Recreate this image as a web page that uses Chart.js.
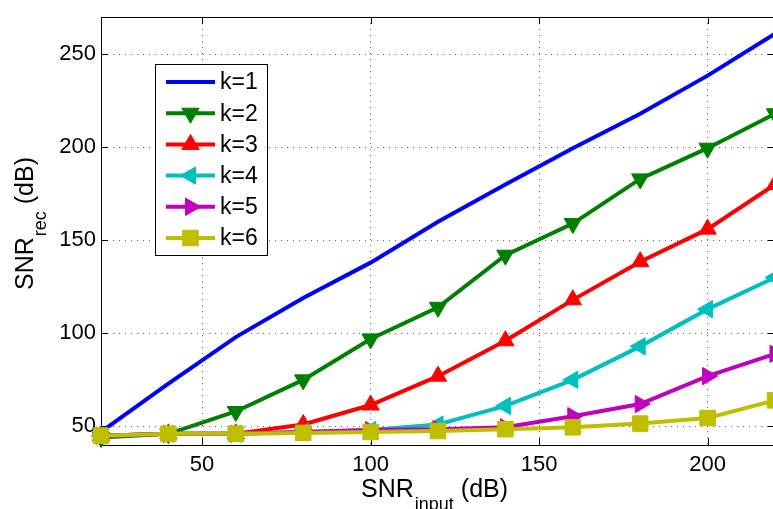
<!DOCTYPE html>
<html>
<head>
<meta charset="utf-8">
<script src="https://cdn.jsdelivr.net/npm/chart.js@4/dist/chart.umd.min.js"></script>
<style>
  html, body { margin: 0; padding: 0; background: #fff; overflow: hidden; }
  #wrap { position: relative; width: 776px; height: 509px; }
</style>
</head>
<body>
<div id="wrap"><canvas id="snrChart" width="776" height="509"></canvas></div>
<script>
const snrInput = [20, 40, 60, 80, 100, 120, 140, 160, 180, 200, 220]
const k1 = [47, 73, 98, 119, 138, 160, 180, 199.5, 218, 238.5, 261]
const k2 = [44, 46, 58, 75, 97, 114, 142, 159, 183, 199.5, 218]
const k3 = [45, 46, 46, 51, 61.5, 77, 96, 118, 138.5, 156, 180]
const k4 = [45, 46, 46, 47, 48, 51, 61, 75, 93, 113, 130]
const k5 = [45, 46, 46, 47, 48, 48.5, 49.5, 55.5, 62, 77, 89]
const k6 = [45, 46, 46, 46.5, 47, 47.5, 48.5, 49.5, 51.5, 54.5, 64]
const seriesLabels = ['k=1', 'k=2', 'k=3', 'k=4', 'k=5', 'k=6']
const xTicks = [50, 100, 150, 200]
const yTicks = [50, 100, 150, 200, 250]

const FONT = '"Liberation Sans", Arial, Helvetica, sans-serif'

const styles = [
  { color: '#0000ff', point: false, rot: 0 },
  { color: '#008000', point: 'triangle', rot: 180 },
  { color: '#ff0000', point: 'triangle', rot: 0 },
  { color: '#00bfbf', point: 'triangle', rot: -90 },
  { color: '#bf00bf', point: 'triangle', rot: 90 },
  { color: '#bfbf00', point: 'rect', rot: 0 },
]

const allSeries = [k1, k2, k3, k4, k5, k6]

const datasets = allSeries.map((vals, i) => ({
  label: seriesLabels[i],
  data: vals.map((v, j) => ({ x: snrInput[j], y: v })),
  borderColor: styles[i].color,
  backgroundColor: styles[i].color,
  borderWidth: 4,
  pointStyle: styles[i].point,
  pointRotation: styles[i].rot,
  pointRadius: styles[i].point ? (styles[i].point === 'rect' ? 11 : 10) : 0,
  pointBorderWidth: 1,
  pointBorderColor: styles[i].color,
  tension: 0,
  clip: false,
  order: 6 - i,
}))

// box + inward tick marks, drawn under the data
const framePlugin = {
  id: 'frame',
  beforeDatasetsDraw(chart) {
    const { ctx, chartArea: a, scales } = chart
    ctx.save()
    ctx.strokeStyle = '#000'
    ctx.lineWidth = 1
    ctx.strokeRect(a.left + 0.5, a.top + 0.5, a.right - a.left - 1, a.bottom - a.top)
    ctx.beginPath()
    xTicks.forEach((v) => {
      const px = Math.round(scales.x.getPixelForValue(v)) + 0.5
      ctx.moveTo(px, a.bottom); ctx.lineTo(px, a.bottom - 7)
      ctx.moveTo(px, a.top); ctx.lineTo(px, a.top + 7)
    })
    yTicks.forEach((v) => {
      const py = Math.round(scales.y.getPixelForValue(v)) + 0.5
      ctx.moveTo(a.left, py); ctx.lineTo(a.left + 7, py)
      ctx.moveTo(a.right, py); ctx.lineTo(a.right - 7, py)
    })
    ctx.stroke()
    ctx.restore()
  },
  afterDraw(chart) {
    const { ctx } = chart
    ctx.save()
    ctx.fillStyle = '#000'
    ctx.textBaseline = 'alphabetic'

    // x title: SNR_input (dB)
    ctx.font = '25px ' + FONT
    ctx.fillText('SNR', 361, 497)
    let w = ctx.measureText('SNR').width
    ctx.font = '18px ' + FONT
    ctx.fillText('input', 361 + w + 1, 510)
    const w2 = ctx.measureText('input').width
    ctx.font = '25px ' + FONT
    ctx.fillText('(dB)', 361 + w + 1 + w2 + 7, 497)

    // y title: SNR_rec (dB), rotated
    ctx.translate(33, 290)
    ctx.rotate(-Math.PI / 2)
    ctx.font = '25px ' + FONT
    ctx.fillText('SNR', 0, 0)
    w = ctx.measureText('SNR').width
    ctx.font = '18px ' + FONT
    ctx.fillText('rec', w + 1, 13)
    const w3 = ctx.measureText('rec').width
    ctx.font = '25px ' + FONT
    ctx.fillText('(dB)', w + 1 + w3 + 7, 0)
    ctx.restore()

    // legend box
    ctx.save()
    const lx = 155, ly = 64, lw = 112, lh = 191
    ctx.fillStyle = '#fff'
    ctx.fillRect(lx, ly, lw, lh)
    ctx.strokeStyle = '#000'
    ctx.lineWidth = 1
    ctx.strokeRect(lx + 0.5, ly + 0.5, lw, lh)
    chart.data.datasets.forEach((ds, i) => {
      const cy = 82 + i * 31.2
      ctx.strokeStyle = ds.borderColor
      ctx.lineWidth = 4
      ctx.beginPath()
      ctx.moveTo(166, cy); ctx.lineTo(215, cy)
      ctx.stroke()
      if (ds.pointStyle) {
        ctx.fillStyle = ds.backgroundColor
        ctx.strokeStyle = ds.pointBorderColor
        ctx.lineWidth = 1
        Chart.helpers.drawPoint(ctx, {
          pointStyle: ds.pointStyle,
          rotation: ds.pointRotation,
          radius: ds.pointRadius,
          borderWidth: 1,
        }, 190.5, cy)
      }
      ctx.fillStyle = '#000'
      ctx.font = '23px ' + FONT
      ctx.textBaseline = 'middle'
      ctx.fillText(ds.label, 220, cy + 1)
    })
    ctx.restore()
  },
}

const ctx = document.getElementById('snrChart').getContext('2d')

new Chart(ctx, {
  type: 'line',
  data: { datasets },
  plugins: [framePlugin],
  options: {
    responsive: false,
    animation: false,
    devicePixelRatio: 1,
    layout: { autoPadding: false, padding: { top: 17, right: 1, left: 0, bottom: 0 } },
    plugins: { legend: { display: false }, tooltip: { enabled: false } },
    scales: {
      x: {
        type: 'linear',
        min: 20,
        max: 220,
        afterBuildTicks: (s) => { s.ticks = xTicks.map((v) => ({ value: v })) },
        afterFit: (s) => {
          s.height = 64
          s.paddingLeft = 0
          s.paddingRight = 0
        },
        grid: { color: '#666', lineWidth: 1, drawTicks: false },
        border: { display: false, dash: [1, 5] },
        ticks: {
          color: '#000',
          padding: 7,
          maxRotation: 0,
          font: { family: FONT, size: 22 },
        },
      },
      y: {
        type: 'linear',
        min: 40,
        max: 270,
        afterBuildTicks: (s) => { s.ticks = yTicks.map((v) => ({ value: v })) },
        afterFit: (s) => {
          s.width = 101
          s.paddingTop = 0
          s.paddingBottom = 0
        },
        grid: { color: '#666', lineWidth: 1, drawTicks: false },
        border: { display: false, dash: [1, 5] },
        ticks: {
          color: '#000',
          padding: 5,
          font: { family: FONT, size: 22 },
        },
      },
    },
  },
})
</script>
</body>
</html>
